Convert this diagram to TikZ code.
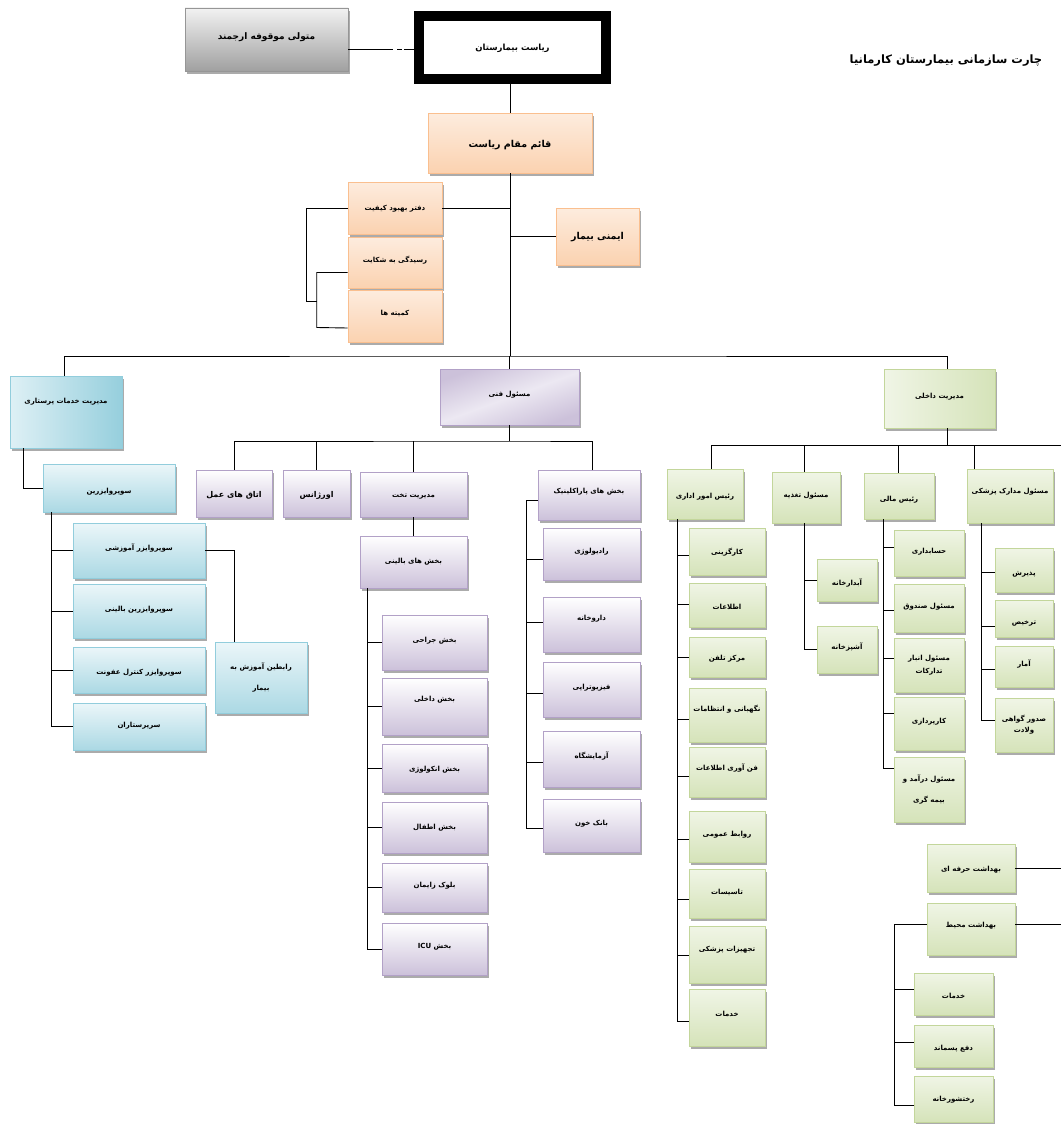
\documentclass[tikz,border=0pt]{standalone}
\usepackage{fontspec}
\usetikzlibrary{shadows}
\newfontfamily\fa[Script=Arabic]{DejaVu Sans}
\TeXXeTstate=1
\definecolor{grline}{RGB}{150,150,150}
\definecolor{grtop}{RGB}{242,242,242}
\definecolor{grbot}{RGB}{160,160,160}
\definecolor{orline}{RGB}{250,191,143}
\definecolor{ortop}{RGB}{253,236,222}
\definecolor{orbot}{RGB}{251,210,176}
\definecolor{blline}{RGB}{146,205,220}
\definecolor{bllite}{RGB}{222,240,245}
\definecolor{bldark}{RGB}{150,207,221}
\definecolor{puline}{RGB}{178,161,199}
\definecolor{pulite}{RGB}{236,232,242}
\definecolor{pudark}{RGB}{204,193,218}
\definecolor{grnline}{RGB}{195,214,155}
\definecolor{grnlite}{RGB}{240,245,230}
\definecolor{grndark}{RGB}{213,227,185}
% text right to left, lifted inside its box
\newcommand{\fat}[2][0]{\raisebox{#1pt}[0pt][0pt]{\beginR #2\endR}}
\newcommand{\fal}[1]{\beginR #1\endR}
\begin{document}
\begin{tikzpicture}[x=1pt,y=-1pt,
  box/.style={draw, line width=0.6pt, inner sep=1pt, align=center,
    font=\fontsize{7}{9}\selectfont\fa\bfseries,
    drop shadow={shadow xshift=2pt, shadow yshift=-3pt, opacity=0.55, fill=black!60}},
  sz/.style 2 args={minimum width=#1, minimum height=#2},
  graybox/.style={box, draw=grline, top color=grtop, bottom color=grbot},
  headbox/.style={draw, line width=10pt, fill=white, font=\fontsize{8.5}{10}\selectfont\fa\bfseries},
  orbox/.style={box, draw=orline, top color=ortop, bottom color=orbot},
  blbox/.style={box, draw=blline, left color=bllite, right color=bldark},
  blsub/.style={box, draw=blline, top color=bllite!60, bottom color=bldark!80},
  pubox/.style={box, draw=puline, top color=pudark, bottom color=pudark, middle color=pulite, shading angle=20},
  pusub/.style={box, draw=puline, top color=white, bottom color=pudark},
  gnbox/.style={box, draw=grnline, left color=grnlite, right color=grndark},
  gnsub/.style={box, draw=grnline, top color=grnlite, bottom color=grndark},
  link/.style={draw, line width=0.9pt}]
\useasboundingbox[fill=white] (0,0) rectangle (1061,1124);

%top
\node[graybox, sz={163}{63}, font=\fontsize{9}{11}\selectfont\fa\bfseries] (mot) at (266.5,39.5) {\fat[0]{متولی موقوفه ارجمند}};
\node[headbox, sz={187}{63}] (ria) at (512.5,47.5) {\fat[-3]{ریاست بیمارستان}};
\node[font=\fontsize{11.5}{14}\selectfont\fa\bfseries] (chart) at (946,61) {\fal{چارت سازمانی بیمارستان کارمانیا}};
\node[orbox, sz={164}{60}, font=\fontsize{9.5}{12}\selectfont\fa\bfseries] (qm) at (510,143) {\fat[-4]{قائم مقام ریاست}};
\node[orbox, sz={94}{52}] (dq) at (395,208) {\fat[-2]{دفتر بهبود کیفیت}};
\node[orbox, sz={94}{51}] (rs) at (395,262.5) {\fat[0]{رسیدگی به شکایت}};
\node[orbox, sz={94}{52}] (km) at (395,316) {\fat[1]{کمیته ها}};
\node[orbox, sz={83}{57}, font=\fontsize{9.5}{12}\selectfont\fa\bfseries] (ay) at (597.5,236.5) {\fat[-3]{ایمنی بیمار}};

%nursing
\node[blbox, sz={112}{72}] (mkp) at (66,412) {\fat[9]{مدیریت خدمات پرستاری}};
\node[blsub, sz={132}{48}] (sup) at (109,488) {\fat[-5]{سوپروایزرین}};
\node[blsub, sz={132}{55}] (sa) at (139,550.5) {\fat[0]{سوپروایزر آموزشی}};
\node[blsub, sz={132}{54}] (sb) at (139,611) {\fat[0]{سوپروایزرین بالینی}};
\node[blsub, sz={132}{46}] (sk) at (139,670) {\fat[-4]{سوپروایزر کنترل عفونت}};
\node[blsub, sz={132}{47}] (sp) at (139,726.5) {\fat[-1]{سرپرستاران}};
\node[blsub, sz={92}{71}] (rb) at (261,677.5) {\fal{رابطین آموزش به}\\[12pt]\fal{بیمار}};

%technical
\node[pubox, sz={139}{56}] (mf) at (509.5,397) {\fat[1]{مسئول فنی}};
\node[pusub, sz={76}{47}, font=\fontsize{8}{10}\selectfont\fa\bfseries] (ao) at (234,493.5) {\fat[-4]{اتاق های عمل}};
\node[pusub, sz={67}{47}, font=\fontsize{8}{10}\selectfont\fa\bfseries] (or) at (316.5,493.5) {\fat[-4]{اورژانس}};
\node[pusub, sz={107}{45}] (mt) at (413.5,494.5) {\fat[-3]{مدیریت تخت}};
\node[pusub, sz={107}{52}] (bb) at (413.5,562) {\fat[-1]{بخش های بالینی}};
\node[pusub, sz={105}{55}] (bj) at (434.5,642.5) {\fat[0]{بخش جراحی}};
\node[pusub, sz={105}{57}] (bd) at (434.5,706.5) {\fat[5]{بخش داخلی}};
\node[pusub, sz={105}{48}] (ba) at (434.5,768) {\fat[-3]{بخش انکولوژی}};
\node[pusub, sz={105}{51}] (bt) at (434.5,827.5) {\fat[-2]{بخش اطفال}};
\node[pusub, sz={105}{49}] (bz) at (434.5,887.5) {\fat[0]{بلوک زایمان}};
\node[pusub, sz={105}{52}] (bi) at (434.5,949) {\fat[1]{بخش \beginL ICU\endL}};
\node[pusub, sz={102}{50}] (bp) at (589,495) {\fat[2]{بخش های پاراکلینیک}};
\node[pusub, sz={97}{52}] (rd) at (591.5,554) {\fat[1]{رادیولوژی}};
\node[pusub, sz={97}{55}] (dr) at (591.5,624.5) {\fat[4]{داروخانه}};
\node[pusub, sz={97}{55}] (fz) at (591.5,689.5) {\fat[0]{فیزیوتراپی}};
\node[pusub, sz={97}{56}] (az) at (591.5,759) {\fat[1]{آزمایشگاه}};
\node[pusub, sz={97}{53}] (bk) at (591.5,825.5) {\fat[0]{بانک خون}};

%internal
\node[gnbox, sz={111}{59}] (md) at (939.5,398.5) {\fat[0]{مدیریت داخلی}};
\node[gnsub, sz={76}{50}] (ra) at (705,494) {\fat[-4]{رئیس امور اداری}};
\node[gnsub, sz={68}{51}] (mt2) at (806,497.5) {\fat[0]{مسئول تغذیه}};
\node[gnsub, sz={70}{46}] (rm) at (899,496) {\fat[-5]{رئیس مالی}};
\node[gnsub, sz={86}{54}] (mm) at (1010,496) {\fat[3]{مسئول مدارک پزشکی}};
\node[gnsub, sz={76}{47}] (kg) at (727,551.5) {\fat[-3]{کارگزینی}};
\node[gnsub, sz={76}{44}] (et) at (727,605) {\fat[-4]{اطلاعات}};
\node[gnsub, sz={76}{40}] (mk) at (727,657) {\fat[-3]{مرکز تلفن}};
\node[gnsub, sz={76}{54}] (ne) at (727,715) {\fat[4]{نگهبانی و انتظامات}};
\node[gnsub, sz={76}{50}] (fa) at (727,772) {\fat[2]{فن آوری اطلاعات}};
\node[gnsub, sz={76}{51}] (rv) at (727,836.5) {\fat[0]{روابط عمومی}};
\node[gnsub, sz={76}{49}] (ts) at (727,893.5) {\fat[-1]{تاسیسات}};
\node[gnsub, sz={76}{57}] (tj) at (727,954.5) {\fat[3]{تجهیزات پزشکی}};
\node[gnsub, sz={76}{57}] (kh) at (727,1017.5) {\fat[1]{خدمات}};
\node[gnsub, sz={60}{42}] (ab) at (847,580) {\fat[-5]{آبدارخانه}};
\node[gnsub, sz={60}{47}] (ap) at (847,649.5) {\fat[0]{آشپزخانه}};
\node[gnsub, sz={70}{46}] (hs) at (929,553) {\fat[0]{حسابداری}};
\node[gnsub, sz={70}{48}] (ms) at (929,608) {\fat[0]{مسئول صندوق}};
\node[gnsub, sz={70}{54}] (mn) at (929,665) {\fal{مسئول انبار}\\[4pt]\fal{تدارکات}};
\node[gnsub, sz={70}{53}] (kp) at (929,723.5) {\fat[0]{کارپردازی}};
\node[gnsub, sz={70}{65}] (mb) at (929,789.5) {\fal{مسئول درآمد و}\\[12pt]\fal{بیمه گری}};
\node[gnsub, sz={58}{44}] (pz) at (1024,570) {\fat[-5]{پذیرش}};
\node[gnsub, sz={58}{37}] (tk) at (1024,618.5) {\fat[-6]{ترخیص}};
\node[gnsub, sz={58}{41}] (am) at (1024,666.5) {\fat[0]{آمار}};
\node[gnsub, sz={58}{54}] (sg) at (1024,725) {\fal{صدور گواهی}\\[2pt]\fal{ولادت}};
\node[gnsub, sz={88}{48}] (bh) at (971,868) {\fat[-3]{بهداشت حرفه ای}};
\node[gnsub, sz={88}{52}] (bm) at (971,929) {\fat[2]{بهداشت محیط}};
\node[gnsub, sz={79}{42}] (kh2) at (953.5,994) {\fat[-4]{خدمات}};
\node[gnsub, sz={79}{42}] (dp) at (953.5,1046) {\fat[-4]{دفع پسماند}};
\node[gnsub, sz={79}{46}] (rk) at (953.5,1099) {\fat[-2]{رختشورخانه}};

%connectors
\coordinate (bus) at (510,356);
\coordinate (pbus) at (509.5,441);
\coordinate (gbus) at (947,445);
\coordinate (gend) at (1061,445);
\coordinate (edge) at (1061,0);
\draw[link, dash pattern=on 45pt off 4pt on 5pt off 1.5pt on 30pt] (mot.east |- 0,49) -- (ria.west |- 0,49);
\draw[link] (ria.south -| qm.north) -- (qm.north);
\draw[link] (qm.south) -- (bus);
\draw[link] (dq.east) -- (dq.east -| bus);
\draw[link] (ay.west) -- (ay.west -| bus);
\draw[link] (dq.west) -| ++(-41,93) -- ++(10,0);
\draw[link] ([yshift=-10]rs.west) -| ++(-31,55) -- ([yshift=-12]km.west);
\draw[link] ([xshift=-2]mkp.north) |- (bus) -| ([xshift=7.5]md.north);
\draw[link] (mf.north) -- (mf.north |- bus);
%nursing
\draw[link] ([xshift=-43]mkp.south) |- (sup.west);
\foreach \n in {sa,sb,sk,sp}
  \draw[link] ([xshift=9]sup.south west) |- (\n.west);
\draw[link] (sa.east) -| ([xshift=-27]rb.north);
%technical
\draw[link] (mf.south) -- (pbus);
\draw[link] (ao.north) |- (pbus) -| ([xshift=3]bp.north);
\draw[link] (or.north) -- (or.north |- pbus);
\draw[link] (mt.north) -- (mt.north |- pbus);
\draw[link] (mt.south) -- (bb.north);
\foreach \n in {bj,bd,ba,bt,bz,bi}
  \draw[link] ([xshift=8]bb.south west) |- (\n.west);
\draw[link] ([yshift=-5]bp.west) -- ++(-11,0) |- ([yshift=-3]bk.west);
\foreach \n/\d in {rd/5,dr/-2,fz/4,az/3}
  \draw[link] ([yshift=-\d]\n.west) -- ++(-16,0);
%internal
\draw[link] ([xshift=7.5]md.south) -- (gbus);
\draw[link] ([xshift=6]ra.north) |- (gend);
\draw[link] ([xshift=-2]mt2.north) -- ([xshift=-2]mt2.north |- gbus);
\draw[link] ([xshift=-1]rm.north) -- ([xshift=-1]rm.north |- gbus);
\draw[link] ([xshift=-36]mm.north) -- ([xshift=-36]mm.north |- gbus);
\foreach \n/\d in {kg/-4,et/1,mk/0,ne/-4,fa/-4,rv/-3,ts/-6,tj/-1,kh/-4}
  \draw[link] ([xshift=11]ra.south west) |- ([yshift=\d]\n.west);
\foreach \n in {ab,ap}
  \draw[link] ([xshift=-2]mt2.south) |- (\n.west);
\foreach \n/\d in {hs/6,ms/-2,mn/7,kp/10,mb/21}
  \draw[link] ([xshift=20]rm.south west) |- ([yshift=\d]\n.west);
\foreach \n/\d in {pz/-2,tk/-8,am/-3,sg/5}
  \draw[link] ([xshift=15]mm.south west) |- ([yshift=\d]\n.west);
\draw[link] (bh.east) -- (bh.east -| edge);
\draw[link] ([yshift=5]bm.east) -- ([yshift=5]bm.east -| edge);
\draw[link] ([yshift=5]bm.west) -- ++(-32,0) |- ([yshift=-6]rk.west);
\foreach \n/\d in {kh2/5,dp/4}
  \draw[link] ([yshift=\d]\n.west) -- ++(-19,0);
\end{tikzpicture}
\end{document}
